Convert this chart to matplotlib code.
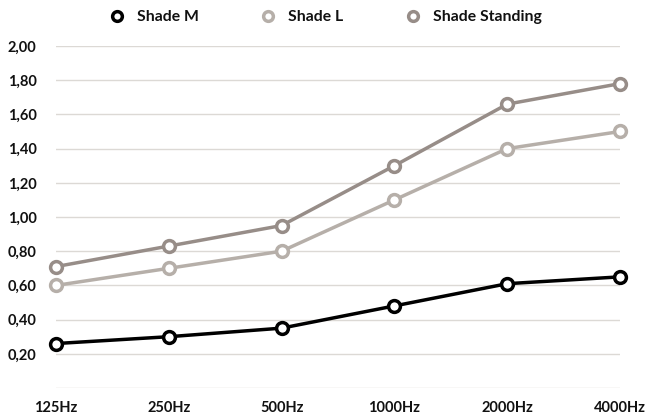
import matplotlib
matplotlib.use('Agg')
import matplotlib.pyplot as plt
from matplotlib.ticker import FuncFormatter

# Data
frequencies = ['125Hz', '250Hz', '500Hz', '1000Hz', '2000Hz', '4000Hz']
shade_m = [0.26, 0.30, 0.35, 0.48, 0.61, 0.65]
shade_l = [0.60, 0.70, 0.80, 1.10, 1.40, 1.50]
shade_standing = [0.71, 0.83, 0.95, 1.30, 1.66, 1.78]

series = [
    ('Shade M', shade_m, '#000000'),
    ('Shade L', shade_l, '#b6afa9'),
    ('Shade Standing', shade_standing, '#978d88'),
]

plt.rcParams['font.family'] = ['Lato', 'DejaVu Sans']

fig = plt.figure(figsize=(6.47, 4.15), dpi=100)
ax = fig.add_axes([56 / 647, 1 - 388 / 415, (620 - 56) / 647, (388 - 46) / 415])

x = list(range(len(frequencies)))
for name, values, color in series:
    ax.plot(x, values, color=color, linewidth=2.5, marker='o', markersize=8.5,
            markerfacecolor='white', markeredgecolor=color, markeredgewidth=2.5,
            label=name, clip_on=False, zorder=3)

ax.set_xlim(0, len(frequencies) - 1)
ax.set_ylim(0, 2.0)
ax.set_yticks([i * 0.2 for i in range(11)])
ax.yaxis.set_major_formatter(FuncFormatter(
    lambda v, p: '' if abs(v) < 1e-9 else f'{v:.2f}'.replace('.', ',')))
ax.set_xticks(x)
ax.set_xticklabels(frequencies)

ax.grid(axis='y', color='#dcd9d5', linewidth=1)
ax.set_axisbelow(True)
for s in ax.spines.values():
    s.set_visible(False)
ax.tick_params(length=0, labelsize=10.5, colors='#111111')
ax.tick_params(axis='x', pad=9)
ax.tick_params(axis='y', pad=14)
for lbl in ax.get_xticklabels() + ax.get_yticklabels():
    lbl.set_fontweight('bold')

leg = fig.legend(loc='center', bbox_to_anchor=(0.503, 1 - 17 / 415), ncol=3,
                 frameon=False, handlelength=1.0, handletextpad=0.75,
                 columnspacing=3.95, prop={'weight': 'bold', 'size': 11.3})
for h in leg.legend_handles:
    h.set_linestyle('none')
    h.set_markersize(7)
for t in leg.get_texts():
    t.set_color('#111111')

fig.savefig('out.png', dpi=100)
